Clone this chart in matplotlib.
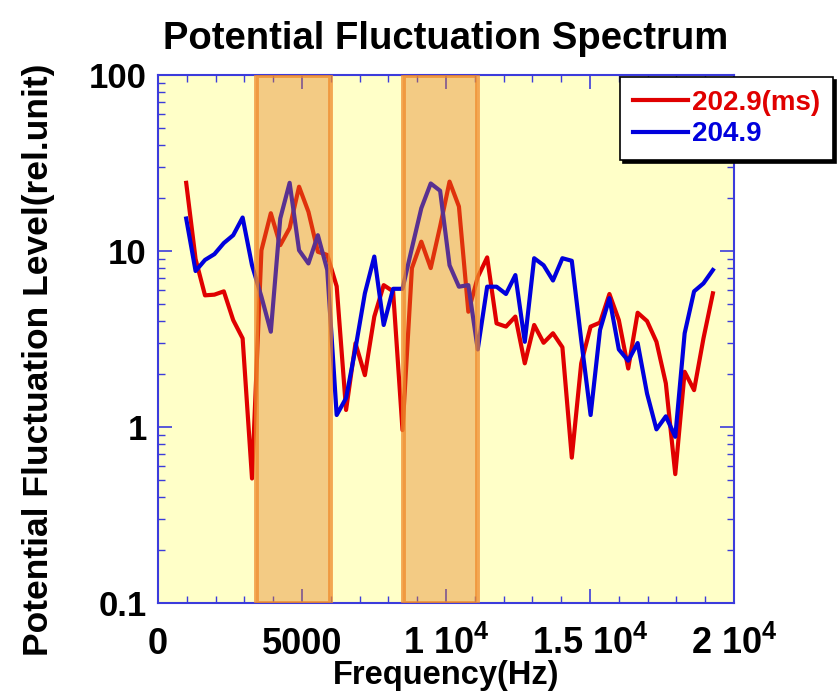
import numpy as np
import matplotlib
matplotlib.use('Agg')
import matplotlib.pyplot as plt
from matplotlib.ticker import FixedLocator, MultipleLocator, NullFormatter, LogLocator

plt.rcParams['font.family'] = ['Liberation Sans', 'DejaVu Sans']
plt.rcParams['font.weight'] = 'bold'
plt.rcParams['mathtext.fontset'] = 'custom'
plt.rcParams['mathtext.rm'] = 'Liberation Sans:bold'
plt.rcParams['mathtext.it'] = 'Liberation Sans:bold'
plt.rcParams['mathtext.bf'] = 'Liberation Sans:bold'

# frequency grid (Hz)
freq = [980, 1306, 1633, 1959, 2286, 2612, 2939, 3265, 3592, 3918,
        4245, 4571, 4898, 5224, 5551, 5877, 6204, 6530, 6857, 7183,
        7510, 7836, 8163, 8489, 8816, 9142, 9469, 9795, 10122, 10448,
        10775, 11101, 11428, 11754, 12081, 12407, 12734, 13060, 13387, 13713,
        14040, 14366, 14693, 15019, 15346, 15672, 15999, 16325, 16652, 16978,
        17305, 17631, 17958, 18284, 18611, 18937, 19264]

# 202.9 ms
red = [24.4, 9.0, 5.6, 5.65, 5.9, 4.05, 3.19, 0.51, 10.1, 16.4,
       10.8, 13.5, 23.2, 16.7, 9.9, 9.5, 6.3, 1.25, 2.99, 1.97,
       4.24, 6.4, 5.9, 0.96, 8.0, 11.3, 8.0, 13.8, 24.8, 17.9,
       4.52, 7.1, 9.2, 3.88, 3.72, 4.24, 2.30, 3.8, 3.01, 3.41,
       2.84, 0.67, 2.3, 3.72, 3.92, 5.7, 4.05, 2.15, 4.46, 4.0,
       3.05, 1.77, 0.54, 2.06, 1.62, 3.19, 5.75]

# 204.9 ms
blue = [15.3, 7.7, 8.9, 9.6, 11.1, 12.3, 15.5, 8.3, 5.5, 3.48,
        15.3, 24.4, 10.1, 8.5, 12.3, 7.8, 1.17, 1.46, 2.8, 5.75,
        9.3, 3.8, 6.1, 6.1, 10.4, 17.5, 24.2, 22.0, 8.3, 6.27,
        6.4, 2.76, 6.27, 6.27, 5.7, 7.3, 3.05, 9.1, 8.3, 6.8,
        9.1, 8.8, 3.12, 1.17, 3.56, 5.4, 2.76, 2.38, 3.0, 1.55,
        0.97, 1.15, 0.88, 3.41, 5.9, 6.55, 7.8]

labels = ['202.9(ms)', '204.9']
bands = [(3410, 5960), (8500, 11080)]

xticks = [0, 5000, 10000, 15000, 20000]
xticklabels = ['0', '5000', r'1 10$^{4}$', r'1.5 10$^{4}$', r'2 10$^{4}$']
yticks = [0.1, 1, 10, 100]
yticklabels = ['0.1', '1', '10', '100']

spine_c = '#3c3cdc'

fig = plt.figure(figsize=(8.38, 6.96), dpi=100)
ax = fig.add_axes([0.1885, 0.1336, 0.6875, 0.7586])
ax.set_facecolor('#ffffc8')

l1, = ax.plot(freq, red, color='#e00000', lw=3, zorder=2)
l2, = ax.plot(freq, blue, color='#0000dd', lw=3, zorder=2)

for a, b in bands:
    ax.axvspan(a, b, facecolor='#e17d20', alpha=0.4, edgecolor='none', zorder=3)
    ax.axvspan(a, b, facecolor='none', edgecolor='#f08a2a', lw=3.5, alpha=0.75, zorder=3)

ax.set_yscale('log')
ax.set_xlim(0, 20000)
ax.set_ylim(0.1, 100)

ax.xaxis.set_major_locator(FixedLocator(xticks))
ax.set_xticklabels(xticklabels)
ax.xaxis.set_minor_locator(MultipleLocator(1000))
ax.yaxis.set_major_locator(FixedLocator(yticks))
ax.set_yticklabels(yticklabels)
ax.yaxis.set_minor_locator(LogLocator(base=10, subs=np.arange(2, 10)))
ax.yaxis.set_minor_formatter(NullFormatter())

ax.tick_params(which='both', direction='in', top=True, right=True, color=spine_c)
ax.tick_params(which='major', length=10, width=1.2)
ax.tick_params(which='minor', length=5, width=1)
ax.tick_params(axis='x', labelsize=26, pad=37)
ax.tick_params(axis='y', labelsize=25, pad=8)
for lab in ax.get_xticklabels():
    lab.set_verticalalignment('baseline')
for s in ax.spines.values():
    s.set_color(spine_c)
    s.set_linewidth(1.5)

ax.set_title('Potential Fluctuation Spectrum', fontsize=27.5, fontweight='bold', pad=19)
ax.set_xlabel('Frequency(Hz)', fontsize=23.5, fontweight='bold')
ax.xaxis.set_label_coords(0.5, -0.107)
ax.set_ylabel('Potential Fluctuation Level(rel.unit)', fontsize=25.5, fontweight='bold')
ax.yaxis.set_label_coords(-0.178, 0.46)

leg = ax.legend([l1, l2], labels, loc='upper left', bbox_to_anchor=(0.740, 0.889),
                bbox_transform=fig.transFigure, prop={'size': 20, 'weight': 'bold'},
                frameon=True, fancybox=False, shadow={'color': 'black', 'alpha': 1},
                handlelength=2.0, handletextpad=0.15, borderpad=0.45,
                labelspacing=0.2, borderaxespad=0)
leg.get_frame().set_edgecolor('black')
leg.get_frame().set_linewidth(1.2)
for txt, c in zip(leg.get_texts(), ['#e00000', '#0000dd']):
    txt.set_color(c)

fig.savefig('out.png', dpi=100)
